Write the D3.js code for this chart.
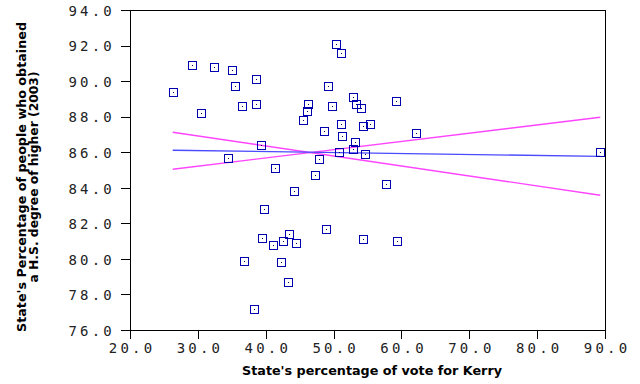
<!DOCTYPE html>
<html><head><meta charset="utf-8">
<script src="https://cdn.jsdelivr.net/npm/d3@7"></script>
<style>
html,body{margin:0;padding:0;background:#fff;}
svg{display:block;}
</style>
</head><body>
<svg id="chart" width="640" height="384"></svg>
<script>
// Data: state's % vote for Kerry (x) vs % with H.S. degree or higher, 2003 (y)
const kerryPct = [26.4,29.2,32.4,35.1,38.6,35.5,36.5,38.5,30.4,39.3,34.5,41.4,
  50.4,51.1,49.2,52.9,53.3,54.1,46.3,46.1,45.5,49.8,59.2,51.1,54.4,55.4,48.6,51.3,
  62.2,53.1,52.8,50.8,54.7,47.9,47.2,57.8,44.1,39.8,48.9,43.5,39.5,42.6,44.5,41.0,
  54.4,59.4,36.8,42.3,43.3,38.3,89.3];
const hsPct = [89.4,90.9,90.8,90.6,90.1,89.7,88.6,88.7,88.2,86.4,85.7,85.1,
  92.1,91.6,89.7,89.1,88.7,88.5,88.7,88.3,87.8,88.6,88.9,87.6,87.5,87.6,87.2,86.9,
  87.1,86.6,86.2,86.0,85.9,85.6,84.7,84.2,83.8,82.8,81.7,81.4,81.2,81.0,80.9,80.8,
  81.1,81.0,79.9,79.8,78.7,77.2,86.0];
// fitted line and the two bounding lines (endpoints)
const fitX = [26.3, 89.3];
const fitY = [86.11, 85.77];
const upperY = [85.04, 87.97];
const lowerY = [87.12, 83.58];
const xTicks = [20,30,40,50,60,70,80,90];
const yTicks = [76,78,80,82,84,86,88,90,92,94];
const xTitle = "State's percentage of vote for Kerry";
const yTitle = ["State's Percentage of people who obtained", "a H.S. degree of higher (2003)"];

const svg = d3.select("#chart");
const x = d3.scaleLinear().domain([20,90]).range([130,605]);
const y = d3.scaleLinear().domain([76,94]).range([330,10]);
const fmt = d3.format(".1f");
const tickFont = "'DejaVu Sans Mono', monospace";

// frame (top and right)
svg.append("path")
  .attr("d", `M${x(20)},${y(94)+0.5}H${x(90)+0.5}V${y(76)}`)
  .attr("fill","none").attr("stroke","#000").attr("stroke-width",1)
  .attr("shape-rendering","crispEdges");

// axes
const xAxis = d3.axisBottom(x).tickValues(xTicks).tickFormat(fmt).tickSize(9).tickSizeOuter(0);
const yAxis = d3.axisLeft(y).tickValues(yTicks).tickFormat(fmt).tickSize(9).tickSizeOuter(0);
const gx = svg.append("g").attr("transform",`translate(0,${y(76)})`).call(xAxis);
const gy = svg.append("g").attr("transform",`translate(${x(20)},0)`).call(yAxis);
[gx,gy].forEach(g=>{
  g.select(".domain").attr("stroke","#000").attr("shape-rendering","crispEdges");
  g.selectAll(".tick line").attr("stroke","#000").attr("shape-rendering","crispEdges");
  g.selectAll(".tick text").attr("fill","#222")
    .style("font-family",tickFont).style("font-size","14px").style("letter-spacing","3.2px");
});
gx.selectAll(".tick text").attr("y",13).attr("dy","0.71em").attr("dx","1.6px");
gy.selectAll(".tick text").attr("x",-15).attr("dy","0.38em");

// lines
const line = d3.line().x(d=>x(d[0])).y(d=>y(d[1]));
svg.append("path").datum(d3.zip(fitX, upperY)).attr("d", line)
  .attr("fill","none").attr("stroke","#ff44ff").attr("stroke-width",1.4);
svg.append("path").datum(d3.zip(fitX, lowerY)).attr("d", line)
  .attr("fill","none").attr("stroke","#ff44ff").attr("stroke-width",1.4);
svg.append("path").datum(d3.zip(fitX, fitY)).attr("d", line)
  .attr("fill","none").attr("stroke","#4a4aff").attr("stroke-width",1.3);

// points
const pts = d3.zip(kerryPct, hsPct);
const g = svg.append("g");
g.selectAll("rect.sq").data(pts).join("rect").attr("class","sq")
  .attr("x", d=>Math.round(x(d[0]))-3.5).attr("y", d=>Math.round(y(d[1]))-3.5)
  .attr("width",8).attr("height",8)
  .attr("fill","none").attr("stroke","#0000b0").attr("stroke-width",1.2)
  .attr("shape-rendering","crispEdges");
g.selectAll("rect.dot").data(pts).join("rect").attr("class","dot")
  .attr("x", d=>Math.round(x(d[0]))).attr("y", d=>Math.round(y(d[1])))
  .attr("width",1).attr("height",1).attr("fill","#000060")
  .attr("shape-rendering","crispEdges");

// titles
const titleFont = "'DejaVu Sans', Verdana, sans-serif";
svg.append("text").attr("x", 372).attr("y", 375).attr("text-anchor","middle")
  .attr("textLength", 260).attr("lengthAdjust","spacingAndGlyphs")
  .style("font-family",titleFont).style("font-weight","bold").style("font-size","12px")
  .text(xTitle);
const yt = svg.append("g").attr("transform","translate(0,177) rotate(-90)");
yt.append("text").attr("x",0).attr("y",26).attr("text-anchor","middle")
  .attr("textLength",310).attr("lengthAdjust","spacingAndGlyphs")
  .style("font-family",titleFont).style("font-weight","bold").style("font-size","12px")
  .text(yTitle[0]);
yt.append("text").attr("x",0).attr("y",38).attr("text-anchor","middle")
  .attr("textLength",211).attr("lengthAdjust","spacingAndGlyphs")
  .style("font-family",titleFont).style("font-weight","bold").style("font-size","12px")
  .text(yTitle[1]);
</script>
</body></html>
